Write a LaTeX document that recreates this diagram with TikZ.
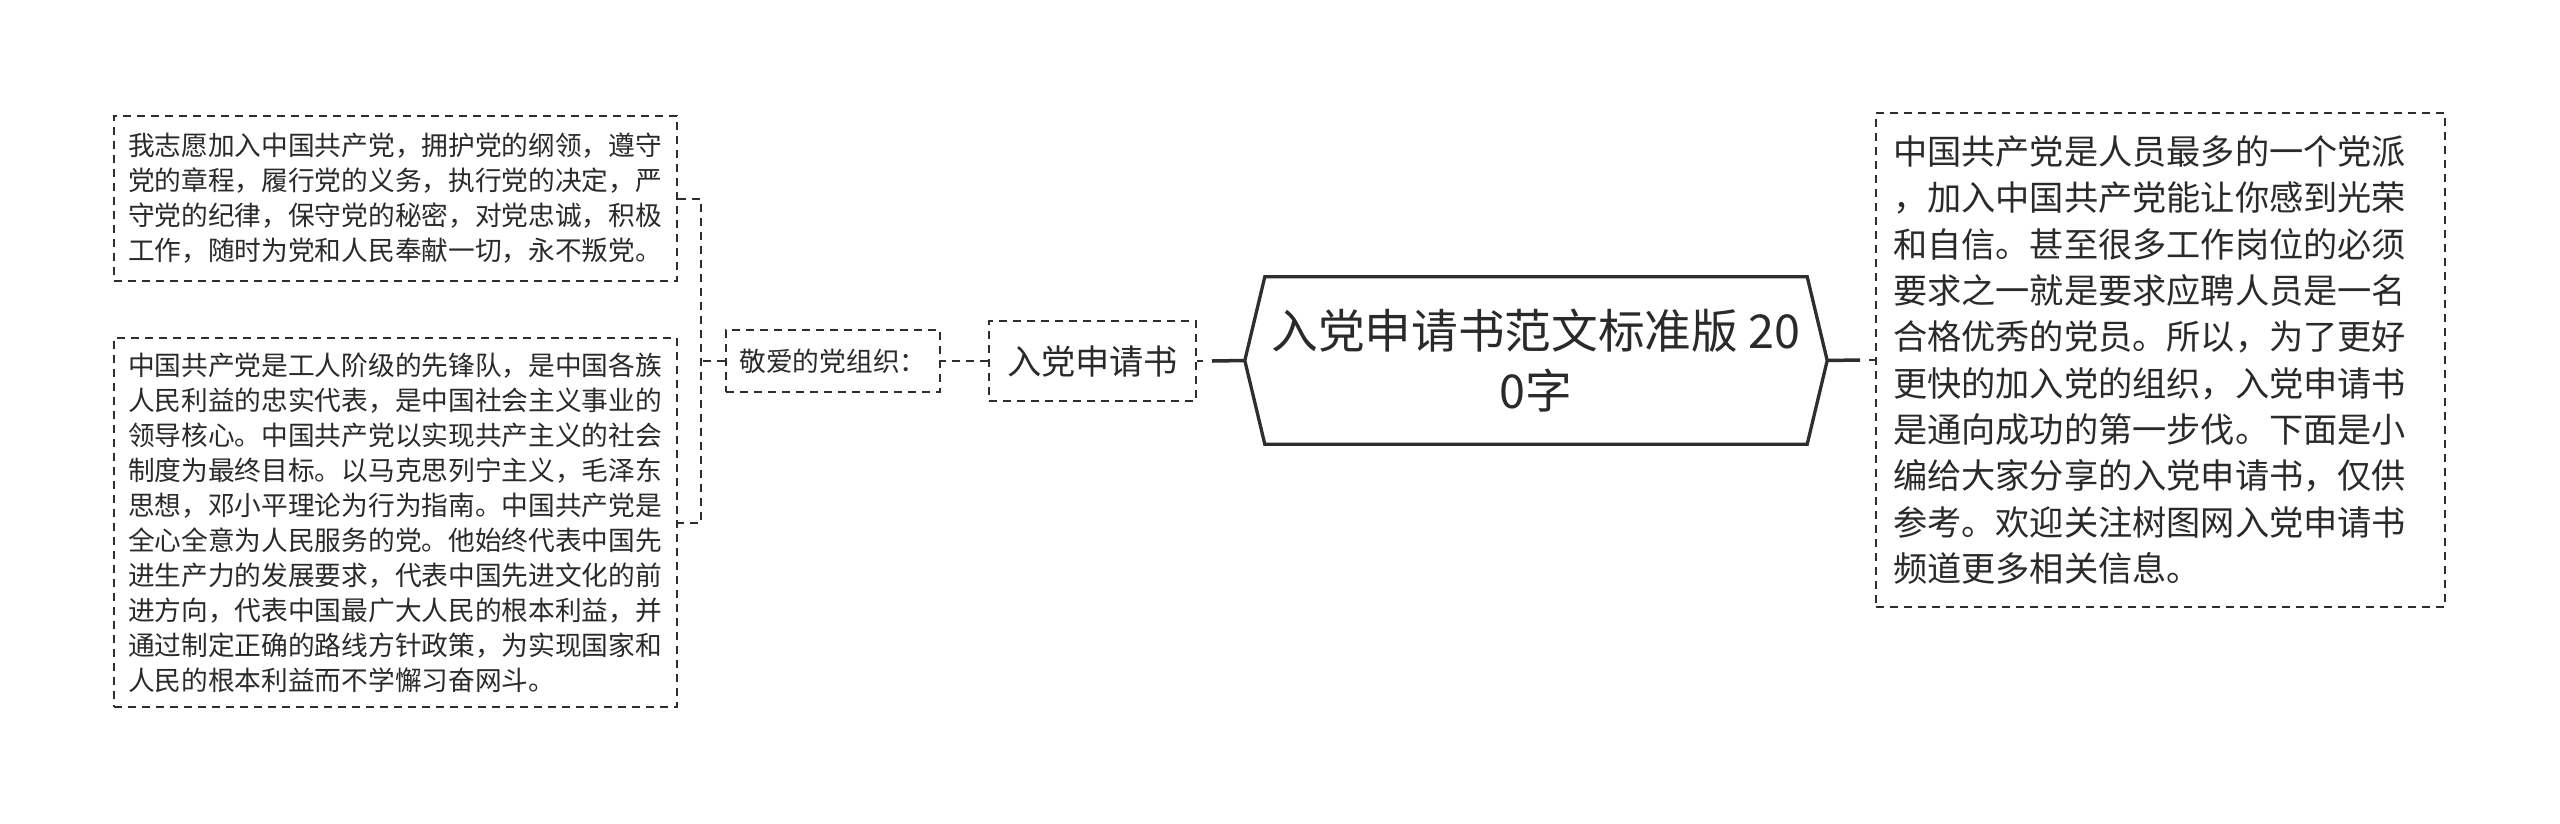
\documentclass[tikz,border=0pt]{standalone}
\usepackage{fontspec}
\newfontfamily\cjk{Noto Sans CJK SC}
\definecolor{linec}{HTML}{2E2E2E}
\definecolor{textc}{HTML}{2A2A2A}
\tikzset{
  dbox/.style={draw=linec, line width=2pt, dash pattern=on 8pt off 6pt, text=textc, inner ysep=0pt},
  dline/.style={draw=linec, line width=2pt, dash pattern=on 8pt off 6pt},
  sline/.style={draw=linec, line width=3.5pt},
  stub/.style={draw=linec, line width=2.5pt},
  hexline/.style={draw=linec, line width=3.3pt, line join=miter},
  smallfont/.style={font=\cjk\fontsize{26.7}{35}\selectfont},
  bigfont/.style={font=\cjk\fontsize{34.2}{46.3}\selectfont},
}
\begin{document}
\begin{tikzpicture}[x=1pt,y=-1pt]
\fill[white] (0,0) rectangle (2560,823);
\useasboundingbox (0,0) rectangle (2560,823);

% central hexagon
\node[font=\cjk\fontsize{46.7}{60}\selectfont, text=textc, align=center,
      minimum width=582pt, minimum height=167pt, inner sep=0pt] (hex) at (1536,360.5)
  {入党申请书范文标准版 20\\0字};
\draw[hexline] (hex.west) -- ([xshift=20pt]hex.north west) -- ([xshift=-20pt]hex.north east)
  -- (hex.east) -- ([xshift=-20pt]hex.south east) -- ([xshift=20pt]hex.south west) -- cycle;

% right box
\node[dbox, bigfont, align=left, text width=535pt, inner xsep=17pt,
      minimum width=569pt, minimum height=494pt] (rbox) at (2160.5,360)
  {中国共产党是人员最多的一个党派\\
   ，加入中国共产党能让你感到光荣\\
   和自信。甚至很多工作岗位的必须\\
   要求之一就是要求应聘人员是一名\\
   合格优秀的党员。所以，为了更好\\
   更快的加入党的组织，入党申请书\\
   是通向成功的第一步伐。下面是小\\
   编给大家分享的入党申请书，仅供\\
   参考。欢迎关注树图网入党申请书\\
   频道更多相关信息。};

% left chain
\node[dbox, bigfont, minimum width=207pt, minimum height=80pt, inner xsep=0pt] (apply) at (1092.5,361) {入党申请书};
\node[dbox, smallfont, minimum width=214pt, minimum height=62pt, inner xsep=0pt] (dear) at (833,361) {敬爱的党组织：};

\node[dbox, smallfont, align=left, text width=535pt, inner xsep=14pt,
      minimum width=563pt, minimum height=165pt] (top) at (395.5,198.5)
  {我志愿加入中国共产党，拥护党的纲领，遵守\\
   党的章程，履行党的义务，执行党的决定，严\\
   守党的纪律，保守党的秘密，对党忠诚，积极\\
   工作，随时为党和人民奉献一切，永不叛党。};

\node[dbox, smallfont, align=left, text width=535pt, inner xsep=14pt,
      minimum width=563pt, minimum height=369pt] (bot) at (395.5,522.5)
  {中国共产党是工人阶级的先锋队，是中国各族\\
   人民利益的忠实代表，是中国社会主义事业的\\
   领导核心。中国共产党以实现共产主义的社会\\
   制度为最终目标。以马克思列宁主义，毛泽东\\
   思想，邓小平理论为行为指南。中国共产党是\\
   全心全意为人民服务的党。他始终代表中国先\\
   进生产力的发展要求，代表中国先进文化的前\\
   进方向，代表中国最广大人民的根本利益，并\\
   通过制定正确的路线方针政策，为实现国家和\\
   人民的根本利益而不学懈习奋网斗。};

% connectors
\coordinate (rstub) at ([xshift=-15pt]rbox.west);
\draw[sline] (hex.east) -- (rstub);
\draw[stub] ([xshift=-6pt]rbox.west) -- (rbox.west);
\coordinate (lstub) at ([xshift=15pt]apply.east);
\draw[sline] (hex.west) -- (lstub);
\draw[stub] (apply.east) -- ([xshift=6pt]apply.east);
\draw[dline] (apply.west) -- (dear.east);
\coordinate (br) at (701,361);
\draw[dline] (dear.west) -- (br);
\draw[dline] (top.east) -- (top.east -| br) -- (bot.east -| br) -- (bot.east);
\end{tikzpicture}
\end{document}
